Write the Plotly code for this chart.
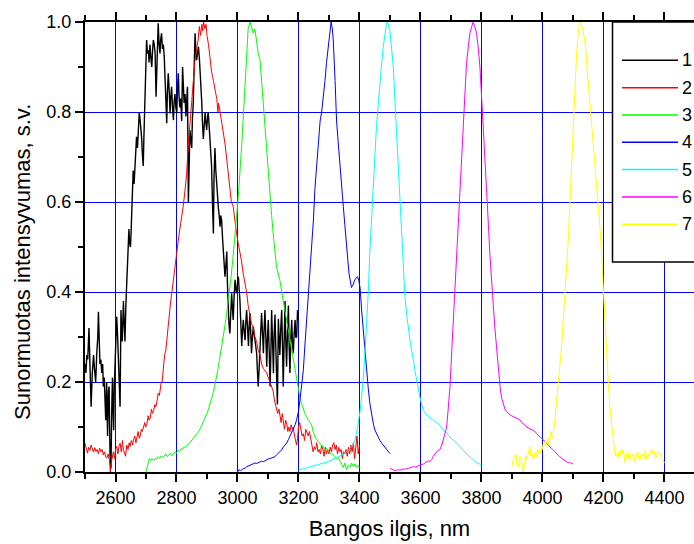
import plotly.graph_objects as go

# ---- spectra: wavelength (nm) and normalised intensity ----
x1 = [2500, 2503, 2506, 2509, 2513, 2516, 2520, 2524, 2528, 2531, 2535, 2539, 2542, 2544, 2547, 2549,
      2552, 2555, 2558, 2560, 2563, 2566, 2568, 2571, 2574, 2577, 2579, 2582, 2585, 2588, 2590, 2592,
      2594, 2596, 2598, 2601, 2604, 2607, 2609, 2612, 2615, 2618, 2620, 2622, 2624, 2626, 2628, 2631,
      2634, 2636, 2638, 2640, 2642, 2644, 2646, 2649, 2651, 2653, 2656, 2658, 2661, 2664, 2666, 2669,
      2672, 2675, 2678, 2681, 2684, 2686, 2688, 2691, 2693, 2695, 2697, 2700, 2702, 2705, 2708, 2710,
      2713, 2716, 2719, 2721, 2724, 2727, 2730, 2733, 2736, 2738, 2740, 2743, 2746, 2748, 2751, 2754,
      2757, 2760, 2762, 2765, 2768, 2770, 2773, 2776, 2779, 2781, 2784, 2787, 2790, 2792, 2795, 2798,
      2801, 2803, 2806, 2808, 2811, 2814, 2817, 2820, 2822, 2825, 2828, 2831, 2833, 2836, 2839, 2841,
      2844, 2847, 2850, 2852, 2855, 2858, 2861, 2864, 2866, 2869, 2872, 2875, 2877, 2880, 2883, 2885,
      2888, 2891, 2894, 2896, 2899, 2902, 2904, 2907, 2910, 2912, 2915, 2918, 2921, 2923, 2926, 2929,
      2932, 2934, 2937, 2940, 2943, 2945, 2948, 2951, 2954, 2956, 2959, 2962, 2965, 2967, 2970, 2972,
      2975, 2978, 2981, 2983, 2986, 2989, 2992, 2994, 2997, 3000, 3003, 3005, 3008, 3011, 3014, 3016,
      3019, 3022, 3025, 3027, 3030, 3033, 3036, 3038, 3041, 3044, 3046, 3049, 3052, 3054, 3057, 3060,
      3063, 3065, 3068, 3071, 3074, 3076, 3079, 3082, 3085, 3087, 3090, 3093, 3096, 3098, 3101, 3104,
      3107, 3110, 3112, 3115, 3118, 3120, 3123, 3126, 3128, 3131, 3134, 3136, 3139, 3142, 3145, 3148,
      3150, 3153, 3156, 3158, 3161, 3164, 3167, 3169, 3172, 3175, 3178, 3180, 3183, 3186, 3189, 3191,
      3194, 3197, 3200]
y1 = [0.24, 0.22, 0.26, 0.25, 0.32, 0.23, 0.145, 0.22, 0.26, 0.23, 0.20, 0.27, 0.30, 0.356, 0.27, 0.24,
      0.25, 0.22, 0.24, 0.19, 0.21, 0.16, 0.115, 0.20, 0.08, 0.18, 0.19, 0.04, 0.008, 0.15, 0.21, 0.14,
      0.093, 0.19, 0.234, 0.27, 0.345, 0.30, 0.264, 0.20, 0.145, 0.36, 0.31, 0.29, 0.33, 0.38, 0.34, 0.29,
      0.37, 0.40, 0.44, 0.486, 0.52, 0.54, 0.51, 0.50, 0.53, 0.56, 0.62, 0.67, 0.64, 0.686, 0.71, 0.745,
      0.72, 0.767, 0.80, 0.78, 0.76, 0.74, 0.708, 0.68, 0.74, 0.797, 0.827, 0.90, 0.96, 0.93, 0.937, 0.91,
      0.95, 0.92, 0.90, 0.93, 0.96, 0.95, 0.93, 0.834, 0.90, 0.96, 0.997, 0.95, 0.93, 0.96, 0.975, 0.94,
      0.95, 0.92, 0.886, 0.83, 0.775, 0.84, 0.886, 0.85, 0.797, 0.83, 0.856, 0.81, 0.782, 0.82, 0.84, 0.81,
      0.797, 0.85, 0.886, 0.84, 0.81, 0.83, 0.78, 0.90, 0.86, 0.82, 0.84, 0.79, 0.82, 0.856, 0.60, 0.70,
      0.76, 0.74, 0.72, 0.78, 0.82, 0.90, 0.975, 0.93, 0.915, 0.93, 0.945, 0.92, 0.90, 0.86, 0.82, 0.78,
      0.74, 0.77, 0.80, 0.78, 0.76, 0.79, 0.80, 0.77, 0.74, 0.70, 0.68, 0.60, 0.53, 0.65, 0.72, 0.67,
      0.63, 0.61, 0.59, 0.57, 0.545, 0.57, 0.56, 0.52, 0.486, 0.46, 0.434, 0.46, 0.49, 0.42, 0.35, 0.33,
      0.308, 0.36, 0.397, 0.37, 0.338, 0.39, 0.427, 0.41, 0.397, 0.42, 0.434, 0.41, 0.382, 0.33, 0.28, 0.31,
      0.338, 0.31, 0.293, 0.33, 0.36, 0.32, 0.28, 0.32, 0.353, 0.30, 0.264, 0.30, 0.323, 0.31, 0.293, 0.28,
      0.264, 0.23, 0.19, 0.23, 0.28, 0.32, 0.353, 0.31, 0.264, 0.31, 0.36, 0.30, 0.234, 0.29, 0.338, 0.27,
      0.19, 0.28, 0.36, 0.29, 0.22, 0.30, 0.35, 0.27, 0.19, 0.15, 0.34, 0.30, 0.26, 0.32, 0.36, 0.27,
      0.19, 0.29, 0.38, 0.30, 0.234, 0.31, 0.37, 0.29, 0.22, 0.30, 0.338, 0.29, 0.264, 0.31, 0.338, 0.30,
      0.30, 0.36, 0.338]

x2 = [2500, 2504, 2508, 2512, 2516, 2520, 2524, 2528, 2532, 2536, 2540, 2544, 2548, 2552, 2556, 2560,
      2564, 2568, 2572, 2576, 2580, 2583, 2586, 2590, 2593, 2597, 2600, 2604, 2608, 2612, 2615, 2619,
      2623, 2626, 2630, 2633, 2637, 2641, 2645, 2648, 2652, 2656, 2659, 2663, 2667, 2670, 2674, 2678,
      2681, 2685, 2688, 2692, 2696, 2699, 2703, 2707, 2710, 2714, 2718, 2721, 2725, 2729, 2732, 2736,
      2740, 2744, 2747, 2750, 2753, 2757, 2761, 2765, 2769, 2773, 2777, 2781, 2785, 2790, 2795, 2800,
      2805, 2811, 2816, 2822, 2827, 2833, 2838, 2844, 2849, 2855, 2860, 2866, 2871, 2875, 2879, 2883,
      2886, 2889, 2893, 2897, 2900, 2905, 2910, 2915, 2921, 2926, 2932, 2936, 2938, 2943, 2948, 2954,
      2959, 2964, 2970, 2975, 2980, 2986, 2991, 2997, 3002, 3008, 3013, 3019, 3024, 3030, 3035, 3041,
      3046, 3052, 3057, 3063, 3068, 3074, 3079, 3085, 3090, 3096, 3101, 3107, 3112, 3117, 3121, 3125,
      3128, 3132, 3136, 3139, 3143, 3147, 3150, 3154, 3158, 3161, 3165, 3168, 3172, 3176, 3180, 3183,
      3187, 3191, 3194, 3197, 3200, 3204, 3208, 3212, 3216, 3220, 3224, 3228, 3232, 3236, 3240, 3244,
      3248, 3252, 3256, 3260, 3264, 3268, 3272, 3276, 3280, 3284, 3288, 3292, 3296, 3300, 3304, 3308,
      3312, 3316, 3320, 3324, 3328, 3332, 3336, 3340, 3344, 3348, 3352, 3356, 3360, 3364, 3368, 3372,
      3376, 3380, 3384, 3388, 3392, 3396, 3400]
y2 = [0.064, 0.05, 0.042, 0.055, 0.048, 0.06, 0.05, 0.044, 0.054, 0.046, 0.05, 0.04, 0.053, 0.045, 0.05, 0.038,
      0.045, 0.033, 0.031, 0.04, 0.027, 0.0, 0.02, 0.035, 0.045, 0.03, 0.05, 0.057, 0.04, 0.06, 0.064, 0.045,
      0.07, 0.05, 0.042, 0.035, 0.06, 0.05, 0.065, 0.057, 0.07, 0.06, 0.072, 0.08, 0.065, 0.076, 0.09, 0.075,
      0.08, 0.095, 0.09, 0.10, 0.11, 0.10, 0.107, 0.125, 0.115, 0.12, 0.14, 0.13, 0.136, 0.15, 0.145, 0.157,
      0.175, 0.17, 0.186, 0.20, 0.20, 0.234, 0.26, 0.27, 0.30, 0.316, 0.35, 0.38, 0.40, 0.43, 0.46, 0.49,
      0.51, 0.54, 0.56, 0.59, 0.62, 0.66, 0.72, 0.77, 0.82, 0.86, 0.91, 0.94, 0.96, 0.99, 0.97, 0.995,
      0.98, 1.0, 0.985, 0.995, 0.97, 0.95, 0.92, 0.89, 0.87, 0.85, 0.83, 0.80, 0.82, 0.80, 0.78, 0.76,
      0.73, 0.70, 0.66, 0.62, 0.60, 0.59, 0.56, 0.53, 0.51, 0.49, 0.47, 0.44, 0.42, 0.40, 0.37, 0.35,
      0.33, 0.32, 0.30, 0.29, 0.27, 0.26, 0.24, 0.23, 0.225, 0.22, 0.21, 0.20, 0.19, 0.18, 0.16, 0.15,
      0.145, 0.13, 0.14, 0.125, 0.11, 0.13, 0.11, 0.095, 0.115, 0.11, 0.09, 0.10, 0.09, 0.105, 0.095, 0.10,
      0.08, 0.07, 0.06, 0.075, 0.10, 0.11, 0.09, 0.08, 0.085, 0.07, 0.095, 0.086, 0.08, 0.09, 0.07, 0.06,
      0.045, 0.056, 0.05, 0.065, 0.045, 0.05, 0.04, 0.06, 0.05, 0.035, 0.055, 0.04, 0.05, 0.04, 0.055, 0.045,
      0.06, 0.065, 0.05, 0.06, 0.04, 0.055, 0.045, 0.05, 0.03, 0.045, 0.04, 0.05, 0.035, 0.055, 0.04, 0.06,
      0.045, 0.065, 0.03, 0.06, 0.08, 0.04, 0.06]

x3 = [2700, 2703, 2707, 2711, 2715, 2720, 2725, 2730, 2735, 2740, 2745, 2750, 2755, 2760, 2765, 2770,
      2775, 2780, 2785, 2790, 2795, 2800, 2805, 2810, 2815, 2820, 2825, 2830, 2835, 2840, 2845, 2850,
      2855, 2860, 2865, 2870, 2875, 2880, 2885, 2890, 2895, 2900, 2905, 2910, 2915, 2920, 2925, 2930,
      2935, 2940, 2945, 2950, 2955, 2960, 2965, 2970, 2975, 2980, 2985, 2990, 2995, 3000, 3005, 3010,
      3015, 3020, 3025, 3030, 3035, 3041, 3046, 3052, 3057, 3063, 3068, 3074, 3080, 3085, 3090, 3096,
      3101, 3107, 3112, 3117, 3123, 3128, 3134, 3139, 3145, 3150, 3156, 3161, 3167, 3172, 3178, 3183,
      3188, 3194, 3200, 3205, 3210, 3216, 3221, 3227, 3232, 3238, 3243, 3248, 3254, 3260, 3265, 3270,
      3276, 3281, 3287, 3292, 3298, 3304, 3309, 3314, 3320, 3325, 3330, 3336, 3341, 3347, 3352, 3358,
      3363, 3369, 3374, 3380, 3385, 3390, 3395, 3400]
y3 = [0.0, 0.01, 0.02, 0.03, 0.025, 0.03, 0.025, 0.03, 0.028, 0.034, 0.03, 0.036, 0.032, 0.035, 0.04, 0.034,
      0.038, 0.042, 0.036, 0.04, 0.045, 0.042, 0.048, 0.046, 0.052, 0.05, 0.056, 0.055, 0.06, 0.062, 0.066, 0.07,
      0.074, 0.078, 0.082, 0.086, 0.092, 0.10, 0.107, 0.115, 0.122, 0.13, 0.14, 0.15, 0.162, 0.175, 0.19, 0.205,
      0.225, 0.245, 0.265, 0.285, 0.31, 0.33, 0.355, 0.38, 0.41, 0.44, 0.475, 0.51, 0.55, 0.59, 0.635, 0.68,
      0.74, 0.80, 0.87, 0.93, 0.985, 1.0, 0.99, 0.975, 0.985, 0.95, 0.93, 0.915, 0.86, 0.80, 0.75, 0.71,
      0.66, 0.61, 0.57, 0.53, 0.49, 0.456, 0.44, 0.427, 0.40, 0.38, 0.36, 0.34, 0.315, 0.29, 0.27, 0.25,
      0.225, 0.20, 0.18, 0.165, 0.153, 0.14, 0.13, 0.123, 0.115, 0.11, 0.105, 0.09, 0.078, 0.072, 0.068, 0.064,
      0.06, 0.055, 0.05, 0.052, 0.046, 0.04, 0.042, 0.038, 0.035, 0.03, 0.032, 0.025, 0.02, 0.01, 0.02, 0.005,
      0.015, 0.01, 0.02, 0.012, 0.018, 0.01, 0.015, 0.01]

x4 = [3000, 3005, 3010, 3015, 3020, 3025, 3030, 3035, 3040, 3046, 3052, 3057, 3063, 3068, 3074, 3079,
      3085, 3090, 3096, 3101, 3107, 3112, 3117, 3123, 3128, 3134, 3139, 3145, 3150, 3156, 3161, 3167,
      3172, 3178, 3183, 3189, 3194, 3200, 3205, 3210, 3216, 3221, 3227, 3232, 3238, 3243, 3249, 3254,
      3260, 3265, 3271, 3276, 3281, 3287, 3292, 3298, 3303, 3307, 3311, 3314, 3320, 3325, 3330, 3336,
      3341, 3347, 3352, 3358, 3362, 3366, 3370, 3374, 3378, 3382, 3385, 3390, 3394, 3398, 3402, 3407,
      3413, 3418, 3424, 3429, 3434, 3440, 3446, 3451, 3456, 3462, 3467, 3473, 3478, 3484, 3489, 3495,
      3500]
y4 = [0.0, 0.005, 0.003, 0.006, 0.008, 0.008, 0.012, 0.013, 0.015, 0.016, 0.018, 0.02, 0.019, 0.021, 0.022, 0.024,
      0.023, 0.025, 0.028, 0.029, 0.03, 0.031, 0.032, 0.034, 0.038, 0.042, 0.046, 0.049, 0.055, 0.06, 0.064, 0.072,
      0.08, 0.086, 0.095, 0.105, 0.116, 0.135, 0.16, 0.19, 0.227, 0.28, 0.338, 0.39, 0.44, 0.50, 0.56, 0.63,
      0.69, 0.74, 0.78, 0.80, 0.827, 0.87, 0.91, 0.945, 0.98, 1.0, 0.985, 0.96, 0.87, 0.78, 0.735, 0.69,
      0.64, 0.59, 0.55, 0.51, 0.47, 0.44, 0.42, 0.41, 0.415, 0.425, 0.427, 0.432, 0.434, 0.425, 0.41, 0.36,
      0.31, 0.26, 0.22, 0.185, 0.153, 0.125, 0.105, 0.093, 0.085, 0.076, 0.07, 0.064, 0.06, 0.056, 0.05, 0.045,
      0.041]

x5 = [3200, 3210, 3221, 3232, 3243, 3254, 3265, 3276, 3287, 3298, 3309, 3320, 3330, 3341, 3352, 3363,
      3374, 3380, 3385, 3390, 3396, 3402, 3407, 3413, 3418, 3424, 3429, 3434, 3440, 3446, 3451, 3456,
      3462, 3467, 3473, 3478, 3484, 3489, 3491, 3495, 3500, 3505, 3511, 3516, 3522, 3527, 3533, 3538,
      3544, 3549, 3555, 3560, 3566, 3571, 3577, 3582, 3588, 3593, 3598, 3604, 3609, 3615, 3620, 3626,
      3631, 3637, 3642, 3648, 3653, 3659, 3664, 3670, 3675, 3681, 3686, 3692, 3697, 3702, 3708, 3713,
      3719, 3724, 3730, 3735, 3740, 3746, 3751, 3757, 3762, 3768, 3773, 3779, 3784, 3790, 3795, 3800]
y5 = [0.004, 0.006, 0.008, 0.01, 0.012, 0.014, 0.016, 0.018, 0.02, 0.023, 0.027, 0.03, 0.034, 0.037, 0.041, 0.048,
      0.056, 0.062, 0.07, 0.085, 0.108, 0.135, 0.167, 0.21, 0.264, 0.33, 0.40, 0.49, 0.575, 0.645, 0.71, 0.77,
      0.82, 0.87, 0.91, 0.945, 0.98, 0.998, 1.0, 0.995, 0.98, 0.945, 0.90, 0.83, 0.75, 0.67, 0.59, 0.51,
      0.44, 0.39, 0.35, 0.32, 0.29, 0.27, 0.25, 0.225, 0.20, 0.185, 0.167, 0.15, 0.138, 0.132, 0.127, 0.124,
      0.12, 0.118, 0.116, 0.112, 0.11, 0.107, 0.104, 0.098, 0.093, 0.09, 0.086, 0.082, 0.077, 0.074, 0.071, 0.067,
      0.062, 0.06, 0.056, 0.052, 0.049, 0.045, 0.041, 0.037, 0.033, 0.03, 0.027, 0.023, 0.021, 0.019, 0.017, 0.016]

x6 = [3500, 3506, 3511, 3517, 3522, 3528, 3533, 3539, 3544, 3550, 3555, 3561, 3566, 3572, 3577, 3583,
      3588, 3594, 3599, 3604, 3610, 3615, 3620, 3626, 3631, 3637, 3642, 3648, 3653, 3659, 3664, 3670,
      3675, 3681, 3686, 3691, 3697, 3702, 3708, 3713, 3719, 3724, 3730, 3735, 3740, 3746, 3751, 3757,
      3762, 3768, 3773, 3778, 3784, 3790, 3795, 3800, 3806, 3811, 3817, 3822, 3828, 3833, 3839, 3844,
      3850, 3855, 3861, 3866, 3872, 3877, 3883, 3888, 3894, 3899, 3904, 3910, 3915, 3921, 3926, 3932,
      3937, 3943, 3948, 3954, 3959, 3965, 3970, 3976, 3981, 3986, 3992, 3997, 4003, 4008, 4014, 4019,
      4025, 4030, 4036, 4041, 4046, 4052, 4057, 4063, 4068, 4074, 4079, 4084, 4090, 4095, 4101]
y6 = [0.008, 0.006, 0.005, 0.003, 0.004, 0.005, 0.004, 0.006, 0.007, 0.006, 0.008, 0.008, 0.009, 0.01, 0.012, 0.011,
      0.012, 0.014, 0.015, 0.016, 0.018, 0.02, 0.022, 0.025, 0.023, 0.028, 0.035, 0.041, 0.045, 0.048, 0.05, 0.06,
      0.071, 0.085, 0.10, 0.14, 0.19, 0.26, 0.338, 0.41, 0.486, 0.56, 0.634, 0.71, 0.78, 0.85, 0.908, 0.945,
      0.975, 0.99, 1.0, 0.99, 0.975, 0.94, 0.90, 0.84, 0.77, 0.70, 0.634, 0.56, 0.48, 0.42, 0.37, 0.32,
      0.27, 0.23, 0.19, 0.165, 0.15, 0.14, 0.134, 0.13, 0.127, 0.125, 0.123, 0.122, 0.12, 0.118, 0.116, 0.11,
      0.108, 0.104, 0.10, 0.098, 0.096, 0.094, 0.093, 0.09, 0.085, 0.082, 0.078, 0.074, 0.07, 0.067, 0.064, 0.06,
      0.055, 0.052, 0.049, 0.045, 0.04, 0.037, 0.034, 0.03, 0.027, 0.025, 0.023, 0.02, 0.022, 0.018, 0.019]

x7 = [3900, 3904, 3909, 3913, 3917, 3921, 3925, 3928, 3932, 3937, 3941, 3945, 3948, 3952, 3956, 3959,
      3963, 3966, 3970, 3974, 3977, 3981, 3985, 3988, 3992, 3996, 3999, 4003, 4007, 4010, 4014, 4018,
      4021, 4025, 4028, 4032, 4036, 4041, 4046, 4052, 4057, 4063, 4068, 4074, 4079, 4085, 4090, 4096,
      4101, 4106, 4112, 4117, 4121, 4125, 4129, 4134, 4138, 4142, 4145, 4150, 4156, 4161, 4167, 4172,
      4178, 4183, 4189, 4194, 4199, 4205, 4210, 4216, 4221, 4227, 4232, 4236, 4240, 4243, 4247, 4251,
      4254, 4258, 4261, 4265, 4269, 4272, 4276, 4280, 4283, 4287, 4291, 4294, 4298, 4302, 4305, 4309,
      4313, 4316, 4320, 4324, 4327, 4331, 4335, 4338, 4342, 4346, 4349, 4353, 4357, 4360, 4364, 4367,
      4371, 4374, 4378, 4382, 4385, 4389, 4392, 4396, 4400]
y7 = [0.012, 0.027, 0.035, 0.04, 0.015, 0.012, 0.03, 0.034, 0.02, 0.0, 0.02, 0.035, 0.027, 0.04, 0.05, 0.056,
      0.035, 0.04, 0.027, 0.04, 0.045, 0.034, 0.05, 0.04, 0.041, 0.055, 0.05, 0.064, 0.058, 0.07, 0.064, 0.075,
      0.06, 0.078, 0.09, 0.075, 0.085, 0.116, 0.153, 0.19, 0.227, 0.28, 0.338, 0.39, 0.45, 0.52, 0.60, 0.69,
      0.767, 0.85, 0.93, 0.97, 0.995, 1.0, 0.99, 0.98, 0.96, 0.94, 0.91, 0.87, 0.82, 0.77, 0.725, 0.68,
      0.64, 0.59, 0.54, 0.48, 0.41, 0.33, 0.264, 0.20, 0.145, 0.10, 0.064, 0.05, 0.035, 0.041, 0.03, 0.045,
      0.035, 0.05, 0.04, 0.05, 0.03, 0.02, 0.04, 0.045, 0.03, 0.027, 0.04, 0.035, 0.041, 0.025, 0.04, 0.034,
      0.045, 0.03, 0.027, 0.04, 0.035, 0.041, 0.03, 0.05, 0.027, 0.04, 0.035, 0.041, 0.05, 0.04, 0.049, 0.045,
      0.03, 0.034, 0.045, 0.04, 0.041, 0.035, 0.03, 0.027, 0.02]

series_names = ["1", "2", "3", "4", "5", "6", "7"]
series_colors = ["#000000", "#FF0000", "#00FF00", "#0000FF", "#00FFFF", "#FF00FF", "#FFFF00"]
series_x = [x1, x2, x3, x4, x5, x6, x7]
series_y = [y1, y2, y3, y4, y5, y6, y7]

x_title = "Bangos ilgis, nm"
y_title = "Sunormuotas intensyvumas, s.v."

FONT = "Liberation Sans, Arial, sans-serif"

fig = go.Figure()
for name, col, xs, ys in zip(series_names, series_colors, series_x, series_y):
    fig.add_trace(go.Scatter(x=xs, y=ys, mode="lines", name=name,
                             line=dict(color=col, width=1.4 if name == "1" else 1),
                             showlegend=False))

axis_common = dict(
    showline=True, linecolor="black", linewidth=2,
    ticks="outside", ticklen=8, tickwidth=1.5, tickcolor="black",
    showgrid=True, gridcolor="#0000FF", gridwidth=1,
    zeroline=False,
    tickfont=dict(family=FONT, size=18, color="black"),
)

fig.update_xaxes(range=[2500, 4497], tick0=2600, dtick=200, mirror="ticks",
                 minor=dict(dtick=100, ticks="outside", ticklen=5, tickwidth=1.5, tickcolor="black", showgrid=False),
                 title=dict(text=x_title, font=dict(family=FONT, size=22, color="black"), standoff=14),
                 **axis_common)
fig.update_yaxes(range=[0, 1.0], tick0=0, dtick=0.2, tickformat=".1f", mirror=False,
                 minor=dict(dtick=0.1, ticks="outside", ticklen=5, tickwidth=1.5, tickcolor="black", showgrid=False),
                 **axis_common)

# legend box drawn in paper coordinates
plot_w, plot_h, left, top = 609, 450, 85, 22
def px_to_paper_x(px):
    return (px - left) / plot_w
def py_to_paper_y(py):
    return (top + plot_h - py) / plot_h

shapes = [dict(type="rect", xref="paper", yref="paper",
               x0=px_to_paper_x(612.5), x1=px_to_paper_x(720),
               y0=py_to_paper_y(262), y1=py_to_paper_y(22),
               line=dict(color="black", width=1.5), fillcolor="white", layer="above")]
annotations = []
row0, row_step = 60.3, 27.33
for i, (name, col) in enumerate(zip(series_names, series_colors)):
    yy = py_to_paper_y(row0 + i * row_step)
    shapes.append(dict(type="line", xref="paper", yref="paper",
                       x0=px_to_paper_x(622), x1=px_to_paper_x(678), y0=yy, y1=yy,
                       line=dict(color=col, width=1.5), layer="above"))
    annotations.append(dict(xref="paper", yref="paper", x=px_to_paper_x(680.5), y=yy,
                            text=name, showarrow=False, xanchor="left", yanchor="middle",
                            borderpad=0,
                            font=dict(family=FONT, size=18, color="black")))

annotations.append(dict(xref="paper", yref="paper", x=px_to_paper_x(22), y=py_to_paper_y(262),
                        text=y_title, textangle=-90, showarrow=False,
                        xanchor="center", yanchor="middle",
                        font=dict(family=FONT, size=22, color="black")))

fig.update_layout(
    width=694, height=544,
    margin=dict(l=85, r=0, t=22, b=72),
    paper_bgcolor="white", plot_bgcolor="white",
    shapes=shapes, annotations=annotations,
    font=dict(family=FONT, color="black"),
)

fig.write_html("out.html")
